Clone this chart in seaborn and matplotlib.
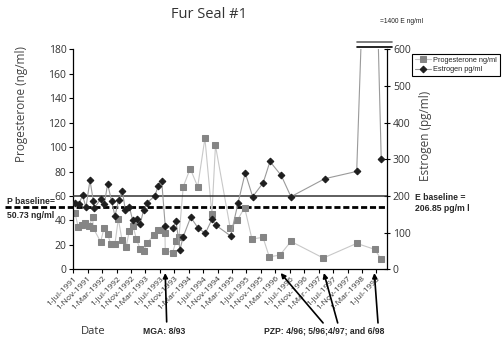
import pandas as pd
import matplotlib
matplotlib.use("Agg")
import matplotlib.pyplot as plt
import seaborn as sns

# Progesterone samples (ng/ml)
prog_dates = ["1991-07-15", "1991-08-12", "1991-09-12", "1991-10-10", "1991-11-13",
              "1991-12-12", "1991-12-16", "1992-02-17", "1992-03-16", "1992-04-16",
              "1992-05-14", "1992-06-17", "1992-07-15", "1992-08-15", "1992-09-18",
              "1992-10-16", "1992-11-16", "1992-12-14", "1993-01-14", "1993-02-14",
              "1993-03-16", "1993-05-15", "1993-06-17", "1993-07-16", "1993-08-13",
              "1993-08-15", "1993-10-17", "1993-11-14", "1993-12-09", "1994-01-14",
              "1994-03-14", "1994-05-16", "1994-07-16", "1994-09-13", "1994-10-13",
              "1995-02-15", "1995-04-15", "1995-06-16", "1995-08-17", "1995-11-18",
              "1996-01-10", "1996-04-09", "1996-07-11", "1997-04-10", "1998-01-17",
              "1998-06-18", "1998-08-12"]
prog_values = [46, 34.6, 36.3, 38.2, 35.7, 42.5, 33.8, 22.5, 33.5, 28.5,
               20.3, 20.9, 41.2, 24.2, 18.1, 31.3, 35.7, 24.7, 17, 15.3,
               21.9, 28.3, 32.4, 31.8, 29.7, 15.3, 13.7, 23.1, 26.4, 67.6,
               82.4, 67.6, 107.2, 45.2, 101.3, 33.4, 40, 50.5, 24.7, 26.2,
               10.2, 11.6, 22.8, 9.2, 21.2, 16.3, 8.2]

# Estrogen samples (pg/ml)
estr_dates = ["1991-07-15", "1991-08-18", "1991-09-17", "1991-10-16", "1991-11-19",
              "1991-12-17", "1991-12-24", "1992-02-17", "1992-03-19", "1992-04-16",
              "1992-05-20", "1992-06-17", "1992-07-18", "1992-08-18", "1992-09-12",
              "1992-10-16", "1992-11-13", "1992-12-17", "1993-01-16", "1993-02-14",
              "1993-03-16", "1993-05-20", "1993-06-17", "1993-07-16", "1993-08-15",
              "1993-10-17", "1993-11-14", "1993-12-17", "1994-01-14", "1994-03-18",
              "1994-05-18", "1994-07-19", "1994-09-13", "1994-10-17", "1995-02-18",
              "1995-04-21", "1995-06-21", "1995-08-23", "1995-11-20", "1996-01-16",
              "1996-04-20", "1996-07-11", "1997-04-22", "1998-01-17", "1998-05-17",
              "1998-08-12"]
estr_values = [182, 178, 202, 169, 243, 187, 167, 191, 178, 233,
               185, 145, 189, 214, 162, 171, 134, 136, 124, 162,
               182, 200, 228, 242, 118, 113, 131, 53, 89, 142,
               113, 98, 136, 120, 91, 180, 263, 198, 236, 294,
               256, 198, 247, 267, 1400, 302]

# baseline levels as drawn
p_baseline = 50.73
e_line = 200

# treatment dates pointed at by the arrows
mga_date = "1993-08-15"
pzp_dates = ["1996-04-15", "1997-04-15", "1998-06-15"]

tick_dates = pd.date_range("1991-07-01", "1998-07-01", freq="4MS")
tick_labels = [f"{d.day}-{d.strftime('%b')}-{d.year}" for d in tick_dates]

sns.set_theme(style="ticks")
plt.rcParams['font.family'] = ['Open Sans', 'DejaVu Sans']
bold_font = ['Liberation Sans Narrow', 'Liberation Sans', 'DejaVu Sans']

prog_df = pd.DataFrame({'date': pd.to_datetime(prog_dates), 'value': prog_values})
estr_df = pd.DataFrame({'date': pd.to_datetime(estr_dates), 'value': estr_values})

fig = plt.figure(figsize=(5.04, 3.41), dpi=100)
ax = fig.add_axes([0.1454, 0.2103, 0.6218, 0.6451])

sns.lineplot(data=prog_df, x='date', y='value', ax=ax, estimator=None, sort=False,
             color='#c8c8c8', lw=0.8, marker='s', markersize=4.6,
             markerfacecolor='#858585', markeredgecolor='#858585',
             label='Progesterone ng/ml', legend=False)

ax2 = ax.twinx()
sns.lineplot(data=estr_df, x='date', y='value', ax=ax2, estimator=None, sort=False,
             color='#9a9a9a', lw=0.8, marker='D', markersize=3.4,
             markerfacecolor='#1e1e1e', markeredgecolor='#1e1e1e',
             label='Estrogen pg/ml', legend=False)

# baselines
ax.plot([-0.218, 1.0], [p_baseline / 180] * 2, transform=ax.transAxes, clip_on=False,
        color='black', lw=2.0, ls=(0, (2.2, 1.0)), zorder=1)
ax2.axhline(e_line, color='#333333', lw=1.1, zorder=1)

ax.set_ylim(0, 180)
ax2.set_ylim(0, 600)
ax.set_xlim(pd.Timestamp("1991-07-01"), pd.Timestamp("1998-09-27"))
ax.set_yticks(range(0, 181, 20))
ax2.set_yticks(range(0, 601, 100))
ax.set_xticks(tick_dates)
ax.set_xticklabels(tick_labels, rotation=45, ha='right', rotation_mode='anchor',
                   fontsize=6, color='#333333')

ax.tick_params(axis='y', direction='out', length=3, width=0.8, labelsize=7.5,
               labelcolor='#333333', color='black', pad=2)
ax.tick_params(axis='x', direction='out', length=3, width=0.8, color='black', pad=1)
ax2.tick_params(axis='y', direction='inout', length=5, width=0.8, labelsize=7.5,
                labelcolor='#333333', color='black', pad=2)

for s in ['top']:
    ax.spines[s].set_visible(False)
    ax2.spines[s].set_visible(False)
ax2.spines['left'].set_visible(False)
ax2.spines['bottom'].set_visible(False)
ax.spines['right'].set_visible(False)
for sp in [ax.spines['left'], ax.spines['bottom'], ax2.spines['right']]:
    sp.set_color('black')
    sp.set_linewidth(0.9)

ax.set_xlabel('')
ax.set_ylabel('Progesterone (ng/ml)', fontsize=8.5, color='#444444')
ax.yaxis.set_label_coords(-0.145, 0.75)
ax2.set_ylabel('Estrogen (pg/ml)', fontsize=8.5, color='#444444')
ax2.yaxis.set_label_coords(1.103, 0.606)

# axis break marks for the off-scale estrogen value
ax2.plot([0.904, 1.016], [1.033, 1.033], transform=ax2.transAxes, clip_on=False,
         color='#666666', lw=1.2)
ax2.plot([0.904, 1.016], [1.009, 1.009], transform=ax2.transAxes, clip_on=False,
         color='black', lw=1.2)
fig.text(0.753, 0.932, '=1400 E ng/ml', fontsize=4.8, family=bold_font, color='#222222')

fig.text(0.415, 0.957, 'Fur Seal #1', fontsize=10.5, color='#333333', ha='center', va='center')
fig.text(0.185, 0.029, 'Date', fontsize=8, color='#333333', ha='center', va='center')

fig.text(0.014, 0.388, 'P baseline=\n50.73 ng/ml', fontsize=6.2, family=bold_font,
         weight='bold', va='center', linespacing=1.75)
fig.text(0.823, 0.405, 'E baseline =\n206.85 pg/m l', fontsize=6.2, family=bold_font,
         weight='bold', va='center', linespacing=1.3)

fig.text(0.326, 0.029, 'MGA: 8/93', fontsize=6.2, family=bold_font, weight='bold',
         ha='center', va='center')
fig.text(0.643, 0.029, 'PZP: 4/96; 5/96;4/97; and 6/98', fontsize=6.2, family=bold_font,
         weight='bold', ha='center', va='center')

arrow = dict(arrowstyle='-|>', color='black', lw=1.2, mutation_scale=7, shrinkA=0, shrinkB=0)
ax.annotate('', xy=(pd.Timestamp(mga_date), -0.017), xycoords=('data', 'axes fraction'),
            xytext=(0.3307, 0.056), textcoords='figure fraction', arrowprops=arrow)
tails = [(0.641, 0.053), (0.670, 0.053), (0.750, 0.053)]
for d, t in zip(pzp_dates, tails):
    ax.annotate('', xy=(pd.Timestamp(d), -0.017), xycoords=('data', 'axes fraction'),
                xytext=t, textcoords='figure fraction', arrowprops=arrow)

h1, l1 = ax.get_legend_handles_labels()
h2, l2 = ax2.get_legend_handles_labels()
leg = fig.legend(h1 + h2, l1 + l2, loc='upper left', bbox_to_anchor=(0.818, 0.842),
                 fontsize=5.3, frameon=True, fancybox=False, framealpha=1,
                 edgecolor='black', borderpad=0.35, handlelength=2.2,
                 labelspacing=0.35, handletextpad=0.3, borderaxespad=0)
leg.get_frame().set_linewidth(0.8)
for t in leg.get_texts():
    t.set_family(bold_font)

fig.savefig('out.png', dpi=100)
